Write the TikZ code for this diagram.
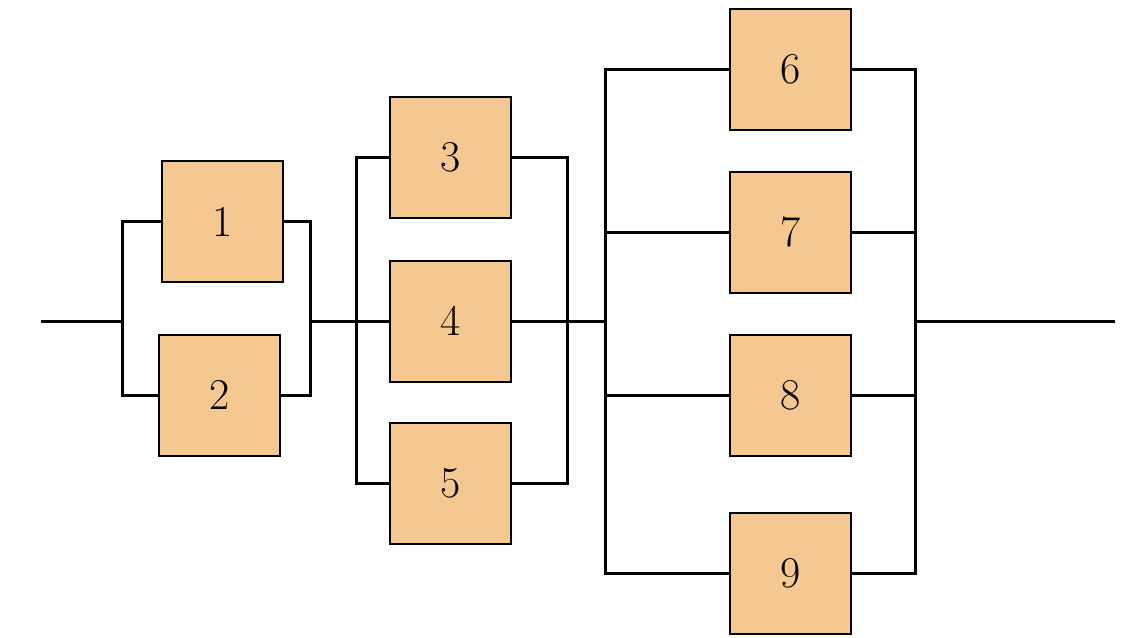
\documentclass[tikz,border=0pt]{standalone}
\usepackage{tikz}
\definecolor{boxfill}{HTML}{F6C891}
\begin{document}
\begin{tikzpicture}[x=1pt,y=-1pt,
  unitbox/.style={draw=black,line width=2pt,fill=boxfill,minimum width=121pt,minimum height=121pt,inner sep=0pt,font=\fontsize{44}{44}\selectfont},
  wire/.style={line width=3pt,line join=miter}]
\useasboundingbox (0,0) rectangle (1142,637);
\node[unitbox] (n1) at (222.5,221.5) {1};
\node[unitbox] (n2) at (219.5,395) {2};
\node[unitbox] (n3) at (450.5,157.5) {3};
\node[unitbox] (n4) at (450.5,321) {4};
\node[unitbox] (n5) at (450.5,483) {5};
\node[unitbox] (n6) at (790.5,69.5) {6};
\node[unitbox] (n7) at (790.5,232) {7};
\node[unitbox] (n8) at (790.5,395) {8};
\node[unitbox] (n9) at (790.5,573.5) {9};
\coordinate (in) at (41,321);
\coordinate (a1) at (122,321);
\coordinate (b1) at (310,321);
\coordinate (a2) at (356,321);
\coordinate (b2) at (567,321);
\coordinate (a3) at (605,321);
\coordinate (b3) at (915,321);
\coordinate (out) at (1115,321);
\begin{scope}[on background layer/.style={}]
\draw[wire] (in) -- (a1);
\draw[wire] (n1.west) -| (a1) |- (n2.west);
\draw[wire] (n1.east) -| (b1) |- (n2.east);
\draw[wire] (b1) -- (n4.west);
\draw[wire] (n3.west) -| (a2) |- (n5.west);
\draw[wire] (n3.east) -| (b2) |- (n5.east);
\draw[wire] (n4.east) -- (a3);
\draw[wire] (n6.west) -| (a3) |- (n9.west);
\draw[wire] (a3) |- (n7.west);
\draw[wire] (a3) |- (n8.west);
\draw[wire] (n6.east) -| (b3) |- (n9.east);
\draw[wire] (n7.east) -| (b3);
\draw[wire] (n8.east) -| (b3);
\draw[wire] (b3) -- (out);
\end{scope}
\end{tikzpicture}
\end{document}
